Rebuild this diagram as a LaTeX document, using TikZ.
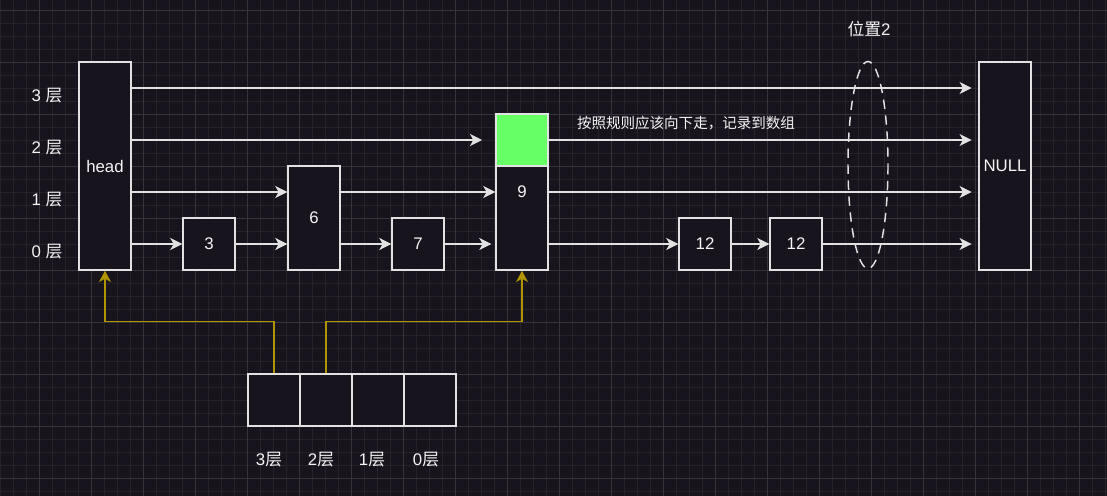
\documentclass[tikz,border=0pt]{standalone}
\usepackage{fontspec}
\setmainfont{Liberation Sans}
\newfontfamily\cjk{Noto Sans CJK SC}
\usetikzlibrary{arrows.meta}
\definecolor{bg}{HTML}{18141D}
\definecolor{gminor}{HTML}{25222A}
\definecolor{gmajor}{HTML}{36333B}
\definecolor{edge}{HTML}{E2E2E2}
\definecolor{txt}{HTML}{F4F4F4}
\definecolor{ylw}{HTML}{B09500}
\definecolor{grn}{HTML}{66FF66}
\tikzset{
  box/.style={draw=edge, fill=bg, line width=1.1pt, inner sep=0pt, minimum width=39pt, minimum height=39pt, text=txt, font=\fontsize{12.6}{15}\selectfont},
  tall/.style={box, minimum height=156pt},
  mid/.style={box, minimum height=78pt},
  lbl/.style={text=txt, inner sep=0pt, font=\fontsize{12.6}{15}\selectfont},
  arr/.style={draw=edge, line width=1.1pt, -{Stealth[length=9pt, width=9pt, inset=2.5pt]}},
  yarr/.style={draw=ylw, line width=1.1pt, -{Stealth[length=8.5pt, width=9pt, inset=2.5pt]}},
  tonull/.style={arr, shorten >=5pt},
}
\begin{document}
\begin{tikzpicture}[x=0.75pt, y=-0.75pt]
\fill[bg] (0,0) rectangle (1107,496);
\useasboundingbox (0,0) rectangle (1107,496);
% grid
\foreach \i in {0,...,85} {\draw[gminor, line width=0.6pt] ({0.3+13*\i},0) -- ({0.3+13*\i},496);}
\foreach \j in {0,...,37} {\draw[gminor, line width=0.6pt] (0,{10.3+13*\j}) -- (1107,{10.3+13*\j});}
\foreach \i in {0,...,21} {\draw[gmajor, line width=0.7pt] ({39.3+52*\i},0) -- ({39.3+52*\i},496);}
\foreach \j in {0,...,9} {\draw[gmajor, line width=0.7pt] (0,{10.3+52*\j}) -- (1107,{10.3+52*\j});}

% level coordinates
\coordinate (y3) at (0,88);
\coordinate (y2) at (0,140);
\coordinate (y1) at (0,192);
\coordinate (y0) at (0,244);

% level labels
\node[lbl] (l3) at (47,96) {3 {\cjk 层}};
\node[lbl] (l2) at (47,148) {2 {\cjk 层}};
\node[lbl] (l1) at (47,200) {1 {\cjk 层}};
\node[lbl] (l0) at (47,252) {0 {\cjk 层}};

% nodes
\node[tall] (head) at (105,166) {head};
\node[box] (n3) at (209,244) {3};
\node[mid] (n6) at (314,218) {6};
\node[box] (n7) at (418,244) {7};
\node[box, fill=grn] (n9g) at (522,140) {};
\node[mid] (n9) at (522,218) {};
\node[lbl] (t9) at (522,192) {9};
\node[box] (n12a) at (705,244) {12};
\node[box] (n12b) at (796,244) {12};
\node[tall] (null) at (1005,166) {NULL};

\coordinate (p2) at (482,140);

% level 3
\draw[tonull] (head.east |- y3) -- (null.west |- y3);
% level 2
\draw[arr] (head.east |- y2) -- (p2);
\draw[tonull] (n9g.east) -- (null.west |- y2);
% level 1
\draw[arr] (head.east |- y1) -- (n6.west |- y1);
\draw[arr] (n6.east |- y1) -- (n9.west |- y1);
\draw[tonull] (n9.east |- y1) -- (null.west |- y1);
% level 0
\draw[arr] (head.east |- y0) -- (n3.west);
\draw[arr] (n3.east) -- (n6.west |- y0);
\draw[arr] (n6.east |- y0) -- (n7.west);
\draw[arr, shorten >=3pt] (n7.east) -- (n9.west |- y0);
\draw[arr] (n9.east |- y0) -- (n12a.west);
\draw[arr] (n12a.east) -- (n12b.west);
\draw[tonull] (n12b.east) -- (null.west |- y0);

% note
\node[lbl, font=\fontsize{10.9}{13}\selectfont] (note) at (686,123) {\cjk 按照规则应该向下走，记录到数组};

% dashed ellipse
\draw[edge, line width=1.1pt, dash pattern=on 7pt off 5pt] (868,165) ellipse [x radius=20, y radius=103.5];
\node[lbl] (pos) at (869,29) {{\cjk 位置}2};

% array
\node[box] (a0) at (274,400) {};
\node[box] (a1) at (326,400) {};
\node[box] (a2) at (378,400) {};
\node[box] (a3) at (430,400) {};
\node[lbl] (b0) at (269,460) {3{\cjk 层}};
\node[lbl] (b1) at (321,460) {2{\cjk 层}};
\node[lbl] (b2) at (372,460) {1{\cjk 层}};
\node[lbl] (b3) at (426,460) {0{\cjk 层}};

% yellow pointers
\draw[yarr] (a0.north) -- ++(0,-52) -| (head.south);
\draw[yarr] (a1.north) -- ++(0,-52) -| (n9.south);
\end{tikzpicture}
\end{document}
